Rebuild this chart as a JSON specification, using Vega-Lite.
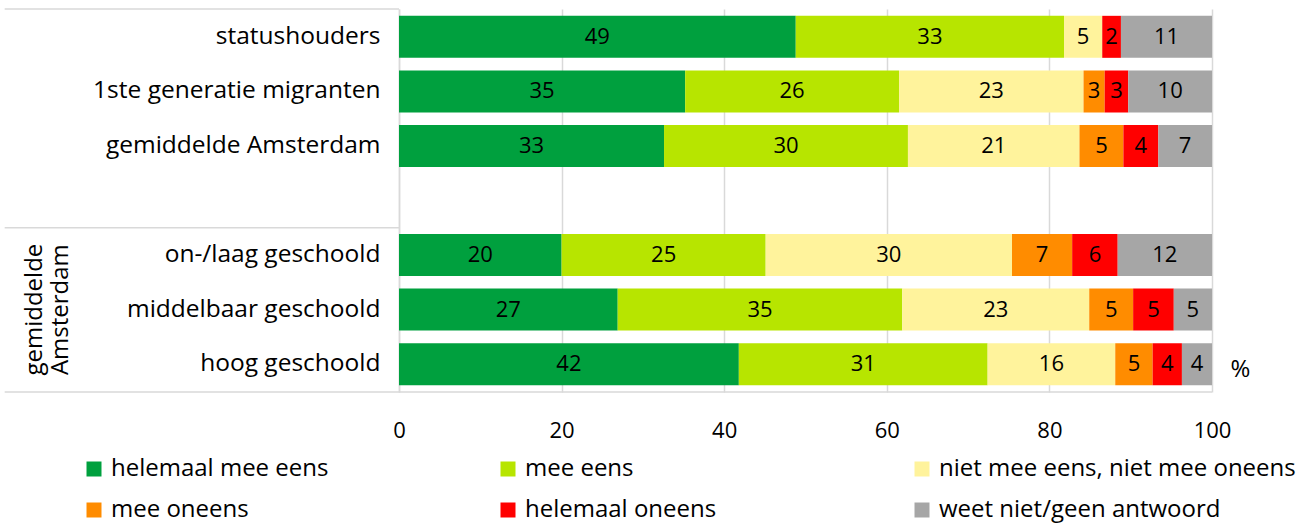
{
  "$schema": "https://vega.github.io/schema/vega-lite/v6.json",
  "width": 813,
  "height": 383,
  "autosize": "none",
  "padding": {"left": 399, "top": 9, "right": 87, "bottom": 132},
  "config": {"font": "Open Sans", "view": {"stroke": null}},
  "datasets": {
    "answers": [
      {"g": "statushouders", "a": "helemaal mee eens", "k": 1, "v": 48.8},
      {"g": "statushouders", "a": "mee eens", "k": 2, "v": 33.0},
      {"g": "statushouders", "a": "niet mee eens, niet mee oneens", "k": 3, "v": 4.7},
      {"g": "statushouders", "a": "helemaal oneens", "k": 5, "v": 2.3},
      {"g": "statushouders", "a": "weet niet/geen antwoord", "k": 6, "v": 11.2},
      {"g": "1ste generatie migranten", "a": "helemaal mee eens", "k": 1, "v": 35.2},
      {"g": "1ste generatie migranten", "a": "mee eens", "k": 2, "v": 26.3},
      {"g": "1ste generatie migranten", "a": "niet mee eens, niet mee oneens", "k": 3, "v": 22.7},
      {"g": "1ste generatie migranten", "a": "mee oneens", "k": 4, "v": 2.6},
      {"g": "1ste generatie migranten", "a": "helemaal oneens", "k": 5, "v": 2.9},
      {"g": "1ste generatie migranten", "a": "weet niet/geen antwoord", "k": 6, "v": 10.3},
      {"g": "gemiddelde Amsterdam", "a": "helemaal mee eens", "k": 1, "v": 32.6},
      {"g": "gemiddelde Amsterdam", "a": "mee eens", "k": 2, "v": 30.0},
      {"g": "gemiddelde Amsterdam", "a": "niet mee eens, niet mee oneens", "k": 3, "v": 21.1},
      {"g": "gemiddelde Amsterdam", "a": "mee oneens", "k": 4, "v": 5.4},
      {"g": "gemiddelde Amsterdam", "a": "helemaal oneens", "k": 5, "v": 4.3},
      {"g": "gemiddelde Amsterdam", "a": "weet niet/geen antwoord", "k": 6, "v": 6.6},
      {"g": "on-/laag geschoold", "a": "helemaal mee eens", "k": 1, "v": 20.0},
      {"g": "on-/laag geschoold", "a": "mee eens", "k": 2, "v": 25.1},
      {"g": "on-/laag geschoold", "a": "niet mee eens, niet mee oneens", "k": 3, "v": 30.3},
      {"g": "on-/laag geschoold", "a": "mee oneens", "k": 4, "v": 7.4},
      {"g": "on-/laag geschoold", "a": "helemaal oneens", "k": 5, "v": 5.6},
      {"g": "on-/laag geschoold", "a": "weet niet/geen antwoord", "k": 6, "v": 11.6},
      {"g": "middelbaar geschoold", "a": "helemaal mee eens", "k": 1, "v": 26.9},
      {"g": "middelbaar geschoold", "a": "mee eens", "k": 2, "v": 35.0},
      {"g": "middelbaar geschoold", "a": "niet mee eens, niet mee oneens", "k": 3, "v": 23.0},
      {"g": "middelbaar geschoold", "a": "mee oneens", "k": 4, "v": 5.4},
      {"g": "middelbaar geschoold", "a": "helemaal oneens", "k": 5, "v": 5.0},
      {"g": "middelbaar geschoold", "a": "weet niet/geen antwoord", "k": 6, "v": 4.7},
      {"g": "hoog geschoold", "a": "helemaal mee eens", "k": 1, "v": 41.8},
      {"g": "hoog geschoold", "a": "mee eens", "k": 2, "v": 30.6},
      {"g": "hoog geschoold", "a": "niet mee eens, niet mee oneens", "k": 3, "v": 15.7},
      {"g": "hoog geschoold", "a": "mee oneens", "k": 4, "v": 4.6},
      {"g": "hoog geschoold", "a": "helemaal oneens", "k": 5, "v": 3.6},
      {"g": "hoog geschoold", "a": "weet niet/geen antwoord", "k": 6, "v": 3.7}
    ],
    "seps": [
      {"g": "statushouders", "x0": -48.5, "x1": 0},
      {"g": "on-/laag geschoold", "x0": -48.5, "x1": 0}
    ],
    "bottom": [
      {"g": "hoog geschoold", "x0": -48.5, "x1": 100}
    ],
    "grp": [
      {"t": "gemiddelde\nAmsterdam", "g": "middelbaar geschoold", "x": -44.8}
    ]
  },
  "layer": [
    {
      "layer": [
        {
          "data": {"name": "answers"},
          "mark": {"type": "bar"},
          "encoding": {
            "y": {
              "field": "g", "type": "nominal",
              "scale": {"domain": ["statushouders", "1ste generatie migranten", "gemiddelde Amsterdam", " ", "on-/laag geschoold", "middelbaar geschoold", "hoog geschoold"], "paddingInner": 0.23, "paddingOuter": 0.125},
              "axis": {"title": null, "domainColor": "#D9D9D9", "domainWidth": 1.5, "ticks": false, "labelFontSize": 24.5, "labelPadding": 19, "labelColor": "#000000", "labelLimit": 400}
            },
            "x": {
              "field": "v", "type": "quantitative", "stack": "zero",
              "scale": {"domain": [0, 100], "nice": false},
              "axis": {"values": [0, 20, 40, 60, 80, 100], "grid": true, "gridColor": "#D9D9D9", "gridWidth": 1.5, "domain": false, "ticks": false, "labelFlush": false, "labelFontSize": 22, "labelPadding": 28, "labelColor": "#000000", "title": "%", "titleX": 841, "titleY": -23, "titleFontSize": 24, "titleFontWeight": "normal", "titleAlign": "center", "titleBaseline": "middle", "titleColor": "#000000"}
            },
            "color": {
              "field": "a", "type": "nominal",
              "scale": {"domain": ["helemaal mee eens", "mee eens", "niet mee eens, niet mee oneens", "mee oneens", "helemaal oneens", "weet niet/geen antwoord"], "range": ["#00A03E", "#B7E500", "#FFF39C", "#FF8C00", "#FF0000", "#A6A6A6"]},
              "legend": {"orient": "none", "legendX": -317, "legendY": 448, "direction": "horizontal", "columns": 3, "title": null, "symbolType": "square", "symbolSize": 225, "symbolStrokeWidth": 0, "labelFontSize": 24, "labelOffset": 5, "columnPadding": 28, "rowPadding": 17, "gridAlign": "all", "labelLimit": 500, "padding": 0, "labelColor": "#000000"}
            },
            "order": {"field": "k", "type": "quantitative"}
          }
        },
        {
          "data": {"name": "answers"},
          "mark": {"type": "text", "fontSize": 22, "color": "#000000", "baseline": "middle"},
          "encoding": {
            "y": {"field": "g", "type": "nominal"},
            "x": {"field": "v", "type": "quantitative", "stack": "zero", "bandPosition": 0.5, "scale": {"domain": [0, 100], "nice": false}},
            "order": {"field": "k", "type": "quantitative"},
            "text": {"field": "v", "type": "quantitative", "format": ".0f"}
          }
        },
        {
          "data": {"name": "grp"},
          "mark": {"type": "text", "angle": 270, "fontSize": 24, "lineHeight": 26, "lineBreak": "\n", "align": "center", "baseline": "middle", "color": "#000000"},
          "encoding": {
            "y": {"field": "g", "type": "nominal"},
            "x": {"field": "x", "type": "quantitative", "scale": {"domain": [0, 100], "nice": false}},
            "text": {"field": "t"}
          }
        }
      ]
    },
    {
      "data": {"name": "seps"},
      "mark": {"type": "rule", "color": "#D9D9D9", "strokeWidth": 1.5},
      "encoding": {
        "y": {"field": "g", "type": "nominal", "bandPosition": 0, "scale": {"domain": ["statushouders", "1ste generatie migranten", "gemiddelde Amsterdam", " ", "on-/laag geschoold", "middelbaar geschoold", "hoog geschoold"], "paddingInner": 0, "paddingOuter": 0}, "axis": null},
        "x": {"field": "x0", "type": "quantitative", "scale": {"domain": [0, 100], "nice": false}},
        "x2": {"field": "x1"}
      }
    },
    {
      "data": {"name": "bottom"},
      "mark": {"type": "rule", "color": "#D9D9D9", "strokeWidth": 1.5},
      "encoding": {
        "y": {"field": "g", "type": "nominal", "bandPosition": 1, "scale": {"domain": ["statushouders", "1ste generatie migranten", "gemiddelde Amsterdam", " ", "on-/laag geschoold", "middelbaar geschoold", "hoog geschoold"], "paddingInner": 0, "paddingOuter": 0}, "axis": null},
        "x": {"field": "x0", "type": "quantitative", "scale": {"domain": [0, 100], "nice": false}},
        "x2": {"field": "x1"}
      }
    }
  ],
  "resolve": {"scale": {"y": "independent"}}
}
